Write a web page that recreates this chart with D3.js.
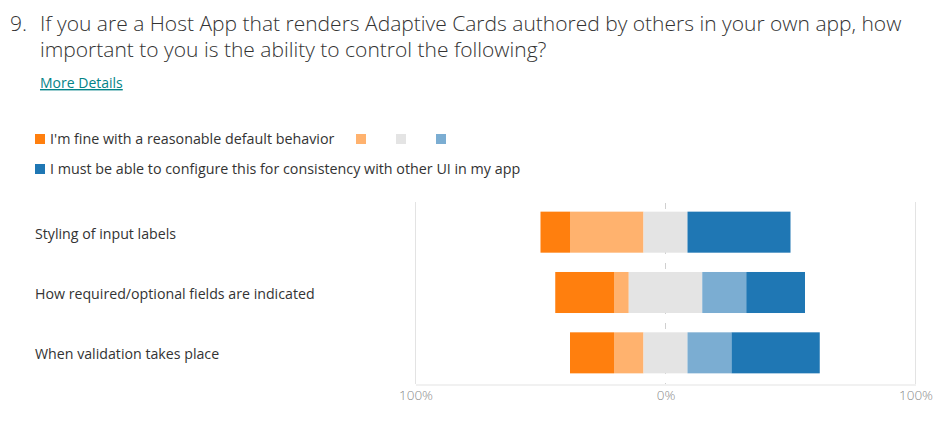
<!DOCTYPE html>
<html>
<head>
<meta charset="utf-8">
<script src="https://cdn.jsdelivr.net/npm/d3@7"></script>
<style>
  body { margin: 0; background: #fff; }
  svg { font-family: "Segoe UI", "Open Sans", sans-serif; }
</style>
</head>
<body>
<div id="chart"></div>
<script>
// likert chart - question 9
let questions = ['Styling of input labels', 'How required/optional fields are indicated', 'When validation takes place'];
let seriesNames = ["I'm fine with a reasonable default behavior", '', '', '', 'I must be able to configure this for consistency with other UI in my app'];
let seriesColors = ['#ff7f0e', '#ffb26e', '#e4e4e4', '#7badd2', '#1f77b4'];
// percent of responses for each answer, one array per question
let labelsRow = [11.8, 29.4, 17.6, 0, 41.2];
let requiredRow = [23.5, 5.9, 29.4, 17.6, 23.5];
let validationRow = [17.6, 11.8, 17.6, 17.6, 35.3];
let rows = [labelsRow, requiredRow, validationRow];
let tickValues = [-100, 0, 100];
let tickLabels = ['100%', '0%', '100%'];

let svgAttr = {width: 948, height: 421};
let svg = d3.select('#chart').append('svg').attr('width', svgAttr.width).attr('height', svgAttr.height);

// title
let title = svg.append('g').attr('fill', '#333').style('font-size', '21px').style('font-weight', 300);
title.append('text').attr('x', 10).attr('y', 31).text('9.');
title.append('text').attr('x', 40).attr('y', 31).text('If you are a Host App that renders Adaptive Cards authored by others in your own app, how');
title.append('text').attr('x', 40).attr('y', 57).text('important to you is the ability to control the following?');
svg.append('text').attr('x', 40).attr('y', 88).attr('fill', '#038387').style('font-size', '14px')
    .style('text-decoration', 'underline').text('More Details');

// legend
let legend = svg.append('g').style('font-size', '14.3px').attr('fill', '#333');
let legendPos = [{x: 35, y: 139}, {x: 356, y: 139}, {x: 396, y: 139}, {x: 436, y: 139}, {x: 35, y: 169}];
seriesNames.forEach(function (name, i) {
    let p = legendPos[i];
    legend.append('rect').attr('x', p.x).attr('y', p.y - 5).attr('width', 10).attr('height', 10).attr('fill', seriesColors[i]);
    if (name) legend.append('text').attr('x', p.x + 15).attr('y', p.y).attr('dy', '0.35em').text(name);
});

// scales
let xScale = d3.scaleLinear().domain([-100, 100]).range([415.5, 915.5]);
let yScale = d3.scaleBand().domain(questions).range([202, 383]).paddingInner(0.32).paddingOuter(0.16);

// grid
let grid = svg.append('g');
grid.selectAll('line.v').data([-100, 100]).enter().append('line')
    .attr('x1', d => xScale(d)).attr('x2', d => xScale(d)).attr('y1', 202).attr('y2', 384)
    .attr('stroke', '#e3e3e3');
grid.append('line').attr('x1', xScale(0)).attr('x2', xScale(0)).attr('y1', 203).attr('y2', 384)
    .attr('stroke', '#d0d0d0').attr('stroke-dasharray', '6,9');

// x axis
let xAxis = d3.axisBottom(xScale).tickValues(tickValues).tickFormat((d, i) => tickLabels[i]).tickSize(0).tickPadding(6);
let ax = svg.append('g').attr('transform', 'translate(0,384.5)').call(xAxis);
ax.select('.domain').attr('stroke', '#e3e3e3');
ax.selectAll('text').attr('fill', '#8a8a8a').style('font-size', '13.5px').style('font-family', '"Segoe UI", "Open Sans", sans-serif').style('font-weight', 300);

// bars: neutral answer centred on 0%
let keys = seriesNames.map((d, i) => 's' + i);
let table = rows.map(function (r, i) {
    let o = {q: questions[i]};
    r.forEach((v, j) => o[keys[j]] = v);
    o.offset = -(r[0] + r[1] + r[2] / 2);
    return o;
});
let stack = d3.stack().keys(keys)(table);
let layers = svg.append('g').selectAll('g').data(stack).enter().append('g')
    .attr('fill', (d, i) => seriesColors[i]);
layers.selectAll('rect').data(d => d).enter().append('rect')
    .attr('x', d => xScale(d[0] + d.data.offset))
    .attr('y', d => yScale(d.data.q))
    .attr('width', d => xScale(d[1] + d.data.offset) - xScale(d[0] + d.data.offset))
    .attr('height', yScale.bandwidth());

// row labels
svg.append('g').style('font-size', '14.2px').attr('fill', '#333')
    .selectAll('text').data(questions).enter().append('text')
    .attr('x', 35).attr('y', d => yScale(d) + yScale.bandwidth() / 2 + 1.5).attr('dy', '0.35em')
    .text(d => d);
</script>
</body>
</html>
